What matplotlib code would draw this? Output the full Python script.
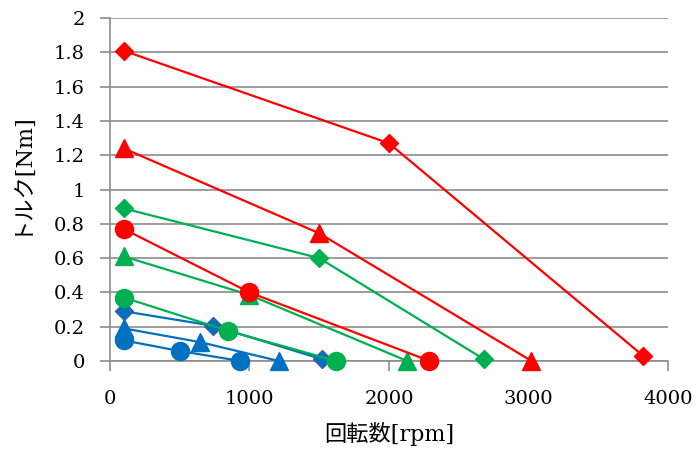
import matplotlib.pyplot as plt

# rpm / torque for each motor setting
red_dia_x = [100, 2000, 3820]
red_dia_y = [1.81, 1.27, 0.03]
red_tri_x = [100, 1500, 3020]
red_tri_y = [1.24, 0.745, 0.0]
red_cir_x = [100, 1000, 2290]
red_cir_y = [0.77, 0.40, 0.0]

grn_dia_x = [100, 1500, 2680]
grn_dia_y = [0.89, 0.60, 0.01]
grn_tri_x = [100, 1000, 2130]
grn_tri_y = [0.61, 0.385, 0.0]
grn_cir_x = [100, 850, 1620]
grn_cir_y = [0.37, 0.175, 0.0]

blu_dia_x = [100, 740, 1520]
blu_dia_y = [0.29, 0.205, 0.01]
blu_tri_x = [100, 645, 1210]
blu_tri_y = [0.19, 0.11, 0.0]
blu_cir_x = [100, 500, 935]
blu_cir_y = [0.12, 0.058, 0.0]

RED = '#FF0000'
GREEN = '#00B050'
BLUE = '#0070C0'

serif = ['DejaVu Serif']
jp = ['DejaVu Serif', 'Noto Sans CJK JP']

fig = plt.figure(figsize=(6.99, 4.54), dpi=100)
ax = fig.add_axes([0.157, 0.205, 0.799, 0.755])

# draw in reverse so red ends on top
series = [
    (blu_cir_x, blu_cir_y, BLUE, 'o', 13, BLUE),
    (blu_tri_x, blu_tri_y, BLUE, '^', 13, BLUE),
    (blu_dia_x, blu_dia_y, BLUE, 'D', 9, '#3A5FA0'),
    (grn_cir_x, grn_cir_y, GREEN, 'o', 13, GREEN),
    (grn_tri_x, grn_tri_y, GREEN, '^', 13, GREEN),
    (grn_dia_x, grn_dia_y, GREEN, 'D', 9, GREEN),
    (red_cir_x, red_cir_y, RED, 'o', 13, RED),
    (red_tri_x, red_tri_y, RED, '^', 13, RED),
    (red_dia_x, red_dia_y, RED, 'D', 9, RED),
]
for x, y, c, m, ms, ec in series:
    ax.plot(x, y, color=c, lw=1.6, marker=m, markersize=ms,
            markerfacecolor=c, markeredgecolor=ec, markeredgewidth=1,
            clip_on=False, zorder=3)

ax.set_xlim(0, 4000)
ax.set_ylim(0, 2)
ax.set_xticks([0, 1000, 2000, 3000, 4000])
ax.set_yticks([0, 0.2, 0.4, 0.6, 0.8, 1, 1.2, 1.4, 1.6, 1.8, 2])
ax.set_yticklabels(['0', '0.2', '0.4', '0.6', '0.8', '1', '1.2', '1.4', '1.6', '1.8', '2'])

ax.grid(axis='y', color='#8C8C8C', lw=1.2)
ax.set_axisbelow(True)
for s in ['top', 'right']:
    ax.spines[s].set_visible(False)
for s in ['left', 'bottom']:
    ax.spines[s].set_color('#8C8C8C')
    ax.spines[s].set_linewidth(1.2)
ax.tick_params(axis='both', colors='#8C8C8C', length=7, width=1.2, labelcolor='black')
ax.tick_params(axis='x', pad=14)
ax.tick_params(axis='y', pad=11)
for lab in ax.get_xticklabels() + ax.get_yticklabels():
    lab.set_family(serif)
    lab.set_fontsize(14)

ax.set_xlabel('回転数[rpm]', family=jp, fontsize=16)
ax.set_ylabel('トルク[Nm]', family=jp, fontsize=16)
ax.xaxis.set_label_coords(0.5, -0.178)
ax.yaxis.set_label_coords(-0.14, 0.55)

fig.savefig('out.png', dpi=100)
